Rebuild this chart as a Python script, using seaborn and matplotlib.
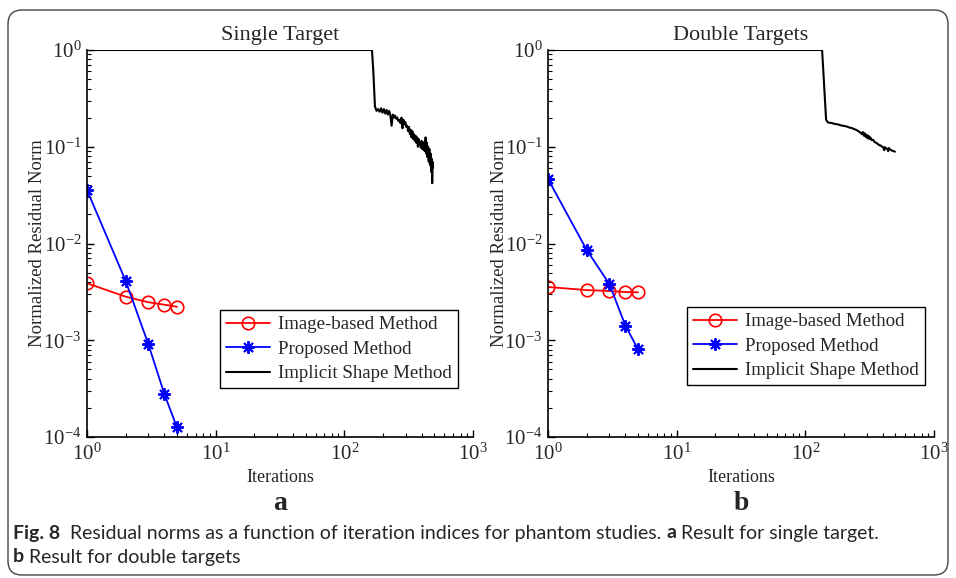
import numpy as np
import pandas as pd
import matplotlib
matplotlib.use("Agg")
import matplotlib.pyplot as plt
from matplotlib.patches import FancyBboxPatch
from matplotlib.ticker import LogLocator, FuncFormatter, NullFormatter
import seaborn as sns

# ---- data -------------------------------------------------------------
iters_small = [1, 2, 3, 4, 5]

# Single target
single_image = [0.00388, 0.00282, 0.00247, 0.00233, 0.00222]
single_proposed = [0.0357, 0.00409, 0.000908, 0.000276, 0.000126]
single_implicit_iter = [1, 164, 168, 173, 178, 183, 188, 193, 198, 203, 208, 213, 218,
                        223, 228, 233, 238, 243, 248, 253, 258, 263, 268, 273, 278,
                        283, 288, 293, 298, 303, 308, 313, 318, 323, 328, 333, 338,
                        343, 348, 353, 358, 363, 368, 373, 378, 383, 388, 393, 398,
                        403, 408, 413, 418, 423, 428, 433, 438, 443, 448, 453, 458,
                        463, 468, 473, 478, 482, 485, 488]
single_implicit_val = [1.0, 1.0, 0.60, 0.26, 0.235, 0.245, 0.23, 0.25, 0.225, 0.245,
                       0.22, 0.24, 0.215, 0.235, 0.21, 0.165, 0.215, 0.20, 0.21, 0.195,
                       0.20, 0.185, 0.19, 0.175, 0.20, 0.155, 0.19, 0.17, 0.18, 0.16,
                       0.165, 0.145, 0.16, 0.135, 0.15, 0.125, 0.145, 0.12, 0.135,
                       0.115, 0.13, 0.11, 0.125, 0.10, 0.12, 0.105, 0.11, 0.098, 0.115,
                       0.095, 0.112, 0.093, 0.10, 0.09, 0.125, 0.085, 0.11, 0.078,
                       0.10, 0.07, 0.095, 0.065, 0.085, 0.055, 0.075, 0.042, 0.07, 0.06]

# Double targets
double_image = [0.00355, 0.00330, 0.00323, 0.00315, 0.00313]
double_proposed = [0.0464, 0.00857, 0.00381, 0.00141, 0.00081]
double_implicit_iter = [1, 135, 145, 150, 160, 170, 180, 190, 200, 210, 220, 230, 240,
                        250, 260, 268, 275, 280, 285, 290, 295, 300, 305, 310, 315,
                        320, 328, 336, 345, 355, 365, 375, 385, 395, 405, 410, 415,
                        425, 435, 440, 445, 455, 465, 475, 485, 497]
double_implicit_val = [1.0, 1.0, 0.19, 0.178, 0.176, 0.172, 0.170, 0.166, 0.164, 0.162,
                       0.158, 0.156, 0.152, 0.149, 0.144, 0.140, 0.135, 0.142, 0.130,
                       0.138, 0.126, 0.133, 0.122, 0.130, 0.120, 0.125, 0.117, 0.118,
                       0.112, 0.110, 0.107, 0.104, 0.103, 0.100, 0.098, 0.092, 0.099,
                       0.096, 0.095, 0.090, 0.097, 0.094, 0.092, 0.091, 0.090, 0.089]

titles = ["Single Target", "Double Targets"]
panel_tags = ["a", "b"]
legend_labels = ["Image-based Method", "Proposed Method", "Implicit Shape Method"]
caption_line1_rest = ("  Residual norms as a function of iteration indices for phantom "
                      "studies. ")
caption_line1_end = " Result for single target."
caption_line2_end = " Result for double targets"

# ---- style ------------------------------------------------------------
sns.set_style("ticks")
plt.rcParams["font.family"] = ["Liberation Serif", "DejaVu Serif"]
plt.rcParams["mathtext.fontset"] = "custom"
plt.rcParams["mathtext.rm"] = "Liberation Serif"
plt.rcParams["mathtext.it"] = "Liberation Serif:italic"
plt.rcParams["mathtext.bf"] = "Liberation Serif:bold"
plt.rcParams["axes.unicode_minus"] = False
plt.rcParams["xtick.direction"] = "in"
plt.rcParams["ytick.direction"] = "in"

DPI = 100
FW, FH = 956, 578
fig = plt.figure(figsize=(FW / DPI, FH / DPI), dpi=DPI)
fig.patch.set_facecolor("white")

ax_w = 386 / FW
ax_h = 387 / FH
ax_b = 1 - 437 / FH
axes = [fig.add_axes([87 / FW, ax_b, ax_w, ax_h]),
        fig.add_axes([548 / FW, ax_b, ax_w, ax_h])]

panels = [
    (single_image, single_proposed, single_implicit_iter, single_implicit_val,
     (220, 310)),
    (double_image, double_proposed, double_implicit_iter, double_implicit_val,
     (687, 307)),
]


def pow10(v, pos):
    e = int(round(np.log10(v)))
    return r"$\mathregular{10^{%d}}$" % e


for ax, title, tag, (img, prop, it_i, val_i, lpos) in zip(axes, titles, panel_tags, panels):
    df_img = pd.DataFrame({"Iterations": iters_small, "Residual": img})
    df_prop = pd.DataFrame({"Iterations": iters_small, "Residual": prop})
    df_imp = pd.DataFrame({"Iterations": it_i, "Residual": val_i})

    sns.lineplot(data=df_img, x="Iterations", y="Residual", ax=ax, color="#ff0000",
                 marker="o", markersize=9, markerfacecolor="none",
                 markeredgecolor="#ff0000", markeredgewidth=1.2, linewidth=1.3,
                 label=legend_labels[0], estimator=None, sort=False)
    sns.lineplot(data=df_prop, x="Iterations", y="Residual", ax=ax, color="#0000ff",
                 marker=(8, 2, 0), markersize=9, markeredgecolor="#0000ff",
                 markeredgewidth=1.4, linewidth=1.3,
                 label=legend_labels[1], estimator=None, sort=False)
    sns.lineplot(data=df_imp, x="Iterations", y="Residual", ax=ax, color="black",
                 linewidth=1.5, label=legend_labels[2], estimator=None, sort=False)

    ax.set_xscale("log")
    ax.set_yscale("log")
    ax.set_xlim(1, 1000)
    ax.set_ylim(1e-4, 1)

    ax.xaxis.set_major_locator(LogLocator(base=10, numticks=10))
    ax.yaxis.set_major_locator(LogLocator(base=10, numticks=10))
    ax.xaxis.set_minor_locator(LogLocator(base=10, subs=np.arange(2, 10), numticks=20))
    ax.yaxis.set_minor_locator(LogLocator(base=10, subs=np.arange(2, 10), numticks=20))
    ax.xaxis.set_major_formatter(FuncFormatter(pow10))
    ax.yaxis.set_major_formatter(FuncFormatter(pow10))
    ax.xaxis.set_minor_formatter(NullFormatter())
    ax.yaxis.set_minor_formatter(NullFormatter())
    ax.tick_params(which="major", length=5, width=1, labelsize=15, color="black")
    ax.tick_params(axis="y", which="major", pad=4)
    ax.tick_params(axis="x", which="major", pad=5)
    ax.tick_params(which="minor", length=3, width=0.8, color="black")

    for s in ["top", "right"]:
        ax.spines[s].set_visible(False)
    for s in ["left", "bottom"]:
        ax.spines[s].set_linewidth(1.2)
        ax.spines[s].set_color("black")

    ax.set_title(title, fontsize=16, pad=7)
    ax.set_xlabel("Iterations", fontsize=13)
    ax.set_ylabel("Normalized Residual Norm", fontsize=13.5)
    # label positions given in pixels relative to the axes frame
    ax.yaxis.set_label_coords((38 - 87) / 386, 0.5)
    ax.xaxis.set_label_coords(0.5, -(478 - 437) / 387)
    ax.xaxis.label.set_va("center")
    ax.yaxis.label.set_va("center")

    x0, y0 = lpos
    leg = ax.legend(loc="upper left",
                    bbox_to_anchor=(x0 / FW, 1 - y0 / FH),
                    bbox_transform=fig.transFigure,
                    fontsize=13.6, frameon=True, fancybox=False, framealpha=1,
                    edgecolor="black", handlelength=2.3, borderpad=0.33,
                    labelspacing=0.38, handletextpad=0.45, borderaxespad=0)
    leg.get_frame().set_linewidth(1.0)

    cx = (ax.get_position().x0 + ax.get_position().x1) / 2
    fig.text(cx, 1 - 503 / FH, tag, ha="center", va="center", fontsize=20,
             fontweight="bold", family=["Liberation Serif"])

# caption
cap_font = ["Lato", "DejaVu Sans"]
cap_size = 14
t = fig.text(13 / FW, 1 - 533 / FH, "Fig. 8", fontsize=cap_size, fontweight="bold",
             family=cap_font, va="center", ha="left")
fig.canvas.draw()
renderer = fig.canvas.get_renderer()


def chain(prev, s, bold=False):
    bb = prev.get_window_extent(renderer)
    nt = fig.text(bb.x1 / FW, prev.get_position()[1], s,
                  fontsize=cap_size, fontweight="bold" if bold else "normal",
                  family=cap_font, va="center", ha="left")
    fig.canvas.draw()
    return nt


t2 = chain(t, caption_line1_rest)
t3 = chain(t2, "a", bold=True)
chain(t3, caption_line1_end)
l2 = fig.text(13 / FW, 1 - 557 / FH, "b", fontsize=cap_size, fontweight="bold",
              family=cap_font, va="center", ha="left")
fig.canvas.draw()
chain(l2, caption_line2_end)

# rounded frame around the whole figure
frame = FancyBboxPatch((8, 3), 940, 565, boxstyle="round,pad=0,rounding_size=14",
                       transform=None, fill=False, edgecolor="#444444", linewidth=1.0)
fig.patches.append(frame)

fig.savefig("out.png", dpi=DPI)
